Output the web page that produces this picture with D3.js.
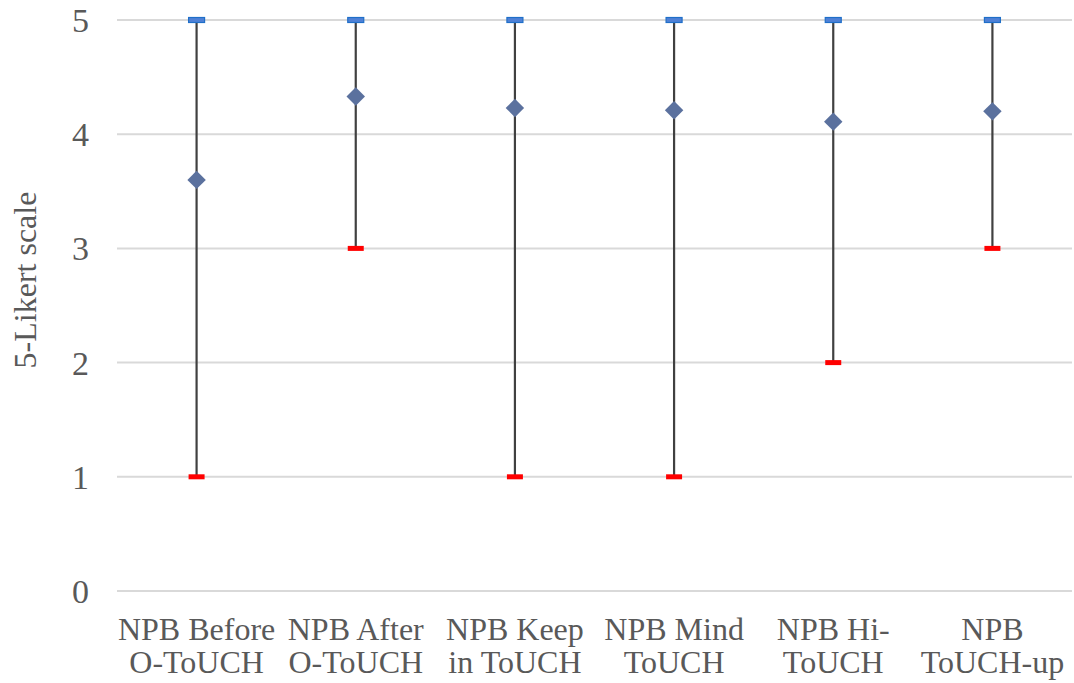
<!DOCTYPE html>
<html>
<head>
<meta charset="utf-8">
<script src="https://cdn.jsdelivr.net/npm/d3@7"></script>
<style>
  body { margin: 0; background: #fff; }
  text { font-family: "Liberation Serif", Tinos, "Times New Roman", Times, "DejaVu Serif", serif; fill: #595959; }
</style>
</head>
<body>
<div id="chart"></div>
<script>
// Chart data
var categories = [
  ["NPB Before", "O-ToUCH"],
  ["NPB After", "O-ToUCH"],
  ["NPB Keep", "in ToUCH"],
  ["NPB Mind", "ToUCH"],
  ["NPB Hi-", "ToUCH"],
  ["NPB", "ToUCH-up"]
];
var highValues = [5, 5, 5, 5, 5, 5];
var lowValues = [1, 3, 1, 1, 2, 3];
var meanValues = [3.6, 4.33, 4.23, 4.21, 4.11, 4.2];
var yTicks = [0, 1, 2, 3, 4, 5];

var svgWidth = 1074;
var svgHeight = 683;

var margin = { top: 20, right: 2, bottom: 92, left: 117 };
var width = svgWidth - margin.left - margin.right;
var height = svgHeight - margin.top - margin.bottom;

var svg = d3.select("#chart")
  .append("svg")
  .attr("width", svgWidth)
  .attr("height", svgHeight);

var chartGroup = svg.append("g")
  .attr("transform", `translate(${margin.left}, ${margin.top})`);

var idx = d3.range(categories.length);

var xScale = d3.scaleBand()
  .domain(idx)
  .range([0, width]);

var yScale = d3.scaleLinear()
  .domain([0, 5])
  .range([height, 0]);

// gridlines
chartGroup.selectAll(".grid")
  .data(yTicks)
  .enter()
  .append("line")
  .attr("x1", 0)
  .attr("x2", width)
  .attr("y1", d => yScale(d))
  .attr("y2", d => yScale(d))
  .attr("stroke", "#d9d9d9")
  .attr("stroke-width", 2);

// y axis labels
var leftAxis = d3.axisLeft(yScale)
  .tickValues(yTicks)
  .tickFormat(d3.format("d"))
  .tickSize(0)
  .tickPadding(28);
var yAxis = chartGroup.append("g")
  .call(leftAxis)
  .attr("font-family", null)
  .attr("font-size", null);
yAxis.select(".domain").remove();
yAxis.selectAll("text")
  .attr("font-size", 34)
  .attr("dy", "0.34em")
  .attr("fill", "#595959");

// x axis labels (two lines each)
var xLabels = chartGroup.selectAll(".xlabel")
  .data(idx)
  .enter()
  .append("text")
  .attr("text-anchor", "middle")
  .attr("font-size", 32)
  .attr("transform", d => `translate(${xScale(d) + xScale.bandwidth() / 2}, ${height + 49})`);

xLabels.append("tspan")
  .attr("x", 0)
  .attr("y", 0)
  .text(d => categories[d][0]);
xLabels.append("tspan")
  .attr("x", 0)
  .attr("y", 33)
  .text(d => categories[d][1]);

// y axis title
svg.append("text")
  .attr("transform", `translate(36, 280) rotate(-90)`)
  .attr("text-anchor", "middle")
  .attr("font-size", 32)
  .text("5-Likert scale");

var cx = d => xScale(d) + xScale.bandwidth() / 2;

// high-low lines
chartGroup.selectAll(".hl")
  .data(idx)
  .enter()
  .append("line")
  .attr("x1", cx)
  .attr("x2", cx)
  .attr("y1", d => yScale(highValues[d]))
  .attr("y2", d => yScale(lowValues[d]))
  .attr("stroke", "#404040")
  .attr("stroke-width", 2.2);

// high markers
chartGroup.selectAll(".high")
  .data(idx)
  .enter()
  .append("rect")
  .attr("x", d => cx(d) - 8)
  .attr("y", d => yScale(highValues[d]) - 2.5)
  .attr("width", 16)
  .attr("height", 5)
  .attr("fill", "#4f81d6")
  .attr("stroke", "#1f6fc8")
  .attr("stroke-width", 1.2);

// low markers
chartGroup.selectAll(".low")
  .data(idx)
  .enter()
  .append("rect")
  .attr("x", d => cx(d) - 8)
  .attr("y", d => yScale(lowValues[d]) - 2.5)
  .attr("width", 16)
  .attr("height", 5)
  .attr("fill", "#ff0000");

// mean markers (diamonds)
chartGroup.selectAll(".mean")
  .data(idx)
  .enter()
  .append("path")
  .attr("d", d3.symbol().type(d3.symbolSquare).size(170))
  .attr("transform", d => `translate(${cx(d)}, ${yScale(meanValues[d])}) rotate(45)`)
  .attr("fill", "#5b719e");
</script>
</body>
</html>
